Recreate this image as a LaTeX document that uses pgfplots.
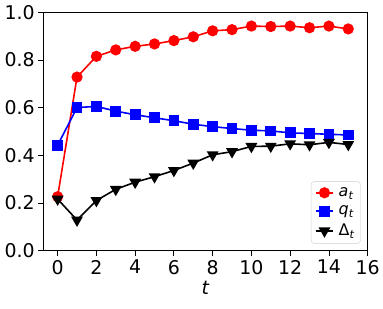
\documentclass[border=0pt]{standalone}
\usepackage{fontspec}
\setmainfont{DejaVu Sans}
\usepackage{pgfplots}
\pgfplotsset{compat=1.18}
\begin{document}
\begin{tikzpicture}
\begin{axis}[
  scale only axis,
  width=326pt, height=239.4pt,
  xmin=-0.75, xmax=16, ymin=0, ymax=1,
  xtick={0,2,...,16}, ytick={0,0.2,...,1.0},
  xtick pos=bottom, ytick pos=left,
  tick align=outside, major tick length=5pt,
  tick style={black, line width=0.8pt},
  axis line style={line width=0.8pt},
  /pgf/number format/assume math mode=true,
  yticklabel style={/pgf/number format/.cd, fixed, fixed zerofill, precision=1},
  ticklabel style={font=\fontsize{19}{22}\selectfont},
  xticklabel style={yshift=-1pt},
  xlabel={\itshape t},
  xlabel style={font=\fontsize{19}{22}\selectfont, yshift=0pt},
  legend style={at={(1,0)}, anchor=south east, xshift=-7pt, yshift=7pt,
    draw=black!20, rounded corners=3pt, font=\fontsize{16}{18}\selectfont,
    row sep=4pt, inner sep=4pt,
    /tikz/every odd column/.append style={column sep=3pt}},
  legend cell align=left,
]
\addplot[red, line width=1.6pt, mark=*, mark size=4.8pt] coordinates {
(0,0.226) (1,0.728) (2,0.815) (3,0.842) (4,0.857) (5,0.867) (6,0.881) (7,0.897)
(8,0.922) (9,0.927) (10,0.942) (11,0.940) (12,0.942) (13,0.935) (14,0.942) (15,0.930)};
\addlegendentry{{\itshape a}\textsubscript{\itshape t}}
\addplot[blue, line width=1.6pt, mark=square*, mark size=4.6pt] coordinates {
(0,0.442) (1,0.600) (2,0.605) (3,0.585) (4,0.570) (5,0.557) (6,0.545) (7,0.530)
(8,0.520) (9,0.512) (10,0.505) (11,0.502) (12,0.494) (13,0.491) (14,0.488) (15,0.485)};
\addlegendentry{{\itshape q}\textsubscript{\itshape t}}
\addplot[black, line width=1.6pt, mark=triangle*, mark options={rotate=180}, mark size=5.3pt] coordinates {
(0,0.216) (1,0.128) (2,0.210) (3,0.257) (4,0.287) (5,0.310) (6,0.336) (7,0.367)
(8,0.402) (9,0.415) (10,0.437) (11,0.438) (12,0.448) (13,0.444) (14,0.454) (15,0.445)};
\addlegendentry{Δ\textsubscript{\itshape t}}
\end{axis}
\path (current axis.south west) ++(-43.3pt,-58.3pt) rectangle ++(383pt,310pt);
\end{tikzpicture}
\end{document}
